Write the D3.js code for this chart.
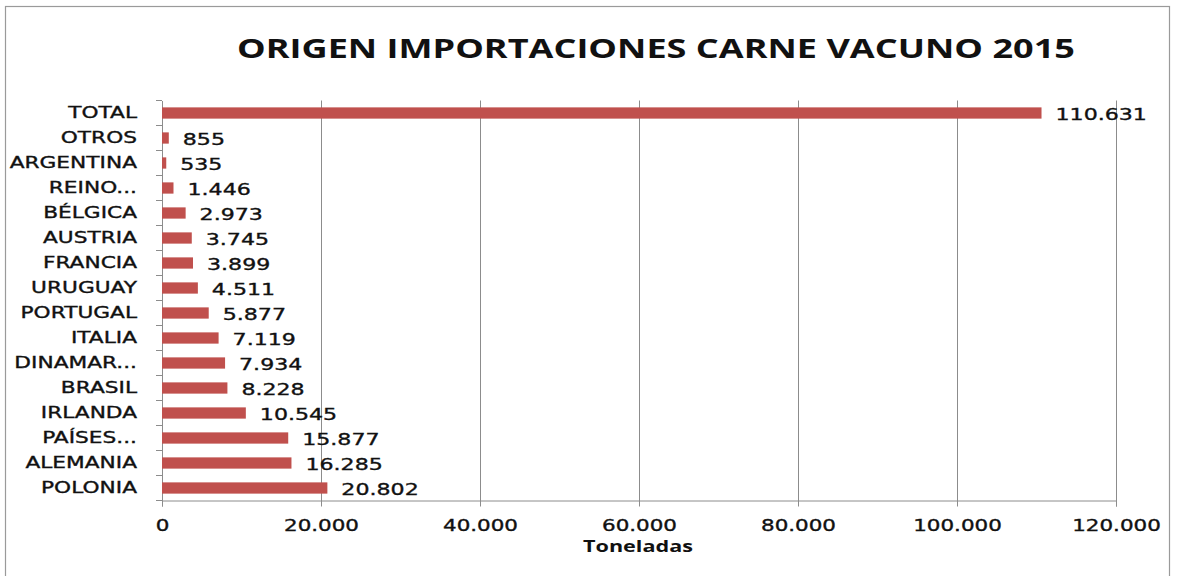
<!DOCTYPE html>
<html><head><meta charset="utf-8">
<script src="https://cdn.jsdelivr.net/npm/d3@7"></script>
<style>body{margin:0;background:#fff;}svg{display:block;}</style>
</head><body>
<svg id="c" width="1177" height="576"></svg>
<script>
const categories = ["TOTAL","OTROS","ARGENTINA","REINO...","BÉLGICA","AUSTRIA","FRANCIA","URUGUAY","PORTUGAL","ITALIA","DINAMAR...","BRASIL","IRLANDA","PAÍSES...","ALEMANIA","POLONIA"];
const values = [110631,855,535,1446,2973,3745,3899,4511,5877,7119,7934,8228,10545,15877,16285,20802];
const tickValues = [0,20000,40000,60000,80000,100000,120000];
const title = "ORIGEN IMPORTACIONES CARNE VACUNO 2015";
const xTitle = "Toneladas";

const fmt = v => d3.format(",")(v).replace(/,/g, ".");
const svg = d3.select("#c");
const m = {l:162, r:1116, t:100.5, b:500.5};
const SX = 1.34;
const FONT = "DejaVu Sans, Verdana, sans-serif";

function stretch(sel, sx) {
  sel.each(function() {
    const t = d3.select(this);
    const ax = +t.attr("x") || 0, ay = +t.attr("y") || 0;
    t.attr("transform", `translate(${ax},${ay}) scale(${sx},1) translate(${-ax},${-ay})`);
  });
}

svg.append("rect").attr("x",5.5).attr("y",6.5).attr("width",1164).attr("height",580)
  .attr("fill","#fff").attr("stroke","#9a9a9a").attr("stroke-width",1.2);

const x = d3.scaleLinear().domain([0,120000]).range([m.l,m.r]);
const y = d3.scaleBand().domain(categories).range([m.t,m.b]).paddingInner(0.55).paddingOuter(0.275);
const yb = d3.scaleBand().domain(categories).range([m.t,m.b]);

// gridlines
svg.append("g").selectAll("line").data(tickValues.slice(1)).join("line")
  .attr("x1",d=>Math.round(x(d))+0.5).attr("x2",d=>Math.round(x(d))+0.5)
  .attr("y1",m.t).attr("y2",m.b+5).attr("stroke","#8c8c8c").attr("stroke-width",1);

// x axis
const xa = svg.append("g").attr("transform",`translate(0,${m.b})`)
  .call(d3.axisBottom(x).tickValues(tickValues).tickFormat(fmt).tickSize(6).tickPadding(13));
xa.select(".domain").attr("stroke","#8c8c8c");
xa.selectAll(".tick line").attr("stroke","#8c8c8c");
xa.selectAll("text").attr("font-family",FONT).attr("font-size",16)
  .attr("fill","#111").attr("stroke","#111").attr("stroke-width",0.35);
stretch(xa.selectAll("text"), SX);

// y axis
const ya = svg.append("g").attr("transform",`translate(${m.l},0)`)
  .call(d3.axisLeft(yb).tickSize(0).tickPadding(25));
ya.select(".domain").attr("stroke","#8c8c8c");
ya.selectAll("text").attr("font-family",FONT).attr("font-size",15.5)
  .attr("fill","#111").attr("stroke","#111").attr("stroke-width",0.35);
stretch(ya.selectAll("text"), 1.4);
// category boundary ticks
svg.append("g").selectAll("line").data(d3.range(categories.length+1)).join("line")
  .attr("x1",m.l-6).attr("x2",m.l)
  .attr("y1",i=>m.t+i*yb.step()).attr("y2",i=>m.t+i*yb.step()).attr("stroke","#8c8c8c");

// bars
svg.append("g").selectAll("rect").data(values).join("rect")
  .attr("x",x(0)).attr("y",(d,i)=>y(categories[i]))
  .attr("width",d=>x(d)-x(0)).attr("height",y.bandwidth()).attr("fill","#C0504D");

// value labels
const vl = svg.append("g").selectAll("text").data(values).join("text")
  .attr("x",d=>x(d)+14).attr("y",(d,i)=>yb(categories[i])+yb.step()/2+1)
  .attr("dy","0.35em").text(fmt)
  .attr("font-family",FONT).attr("font-size",16.5)
  .attr("fill","#111").attr("stroke","#111").attr("stroke-width",0.35);
stretch(vl, SX);

const tt = svg.append("text").attr("x",656).attr("y",58).attr("text-anchor","middle").text(title)
  .attr("font-family","Open Sans, Lato, sans-serif").attr("font-weight","bold").attr("font-size",27).attr("fill","#111");
stretch(tt, 838 / tt.node().getComputedTextLength());

const xt = svg.append("text").attr("x",638).attr("y",552).attr("text-anchor","middle").text(xTitle)
  .attr("font-family","Open Sans, Lato, sans-serif").attr("font-weight","bold").attr("font-size",15.5).attr("fill","#111");
stretch(xt, 110 / xt.node().getComputedTextLength());
</script>
</body></html>
